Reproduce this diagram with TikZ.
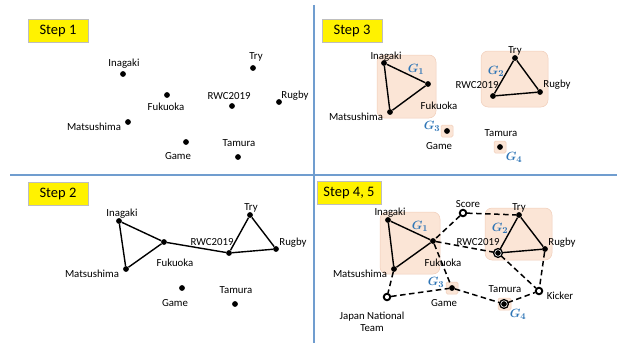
\documentclass[tikz,border=0pt]{standalone}
\usepackage{fontspec}
\setmainfont{Carlito}
\definecolor{lineblue}{RGB}{112,157,207}
\definecolor{gblue}{RGB}{46,117,182}
\definecolor{peach}{RGB}{251,229,214}
\definecolor{peachb}{RGB}{240,205,185}
\definecolor{stepb}{RGB}{190,190,190}
\begin{document}
\begin{tikzpicture}[x=1pt,y=-1pt,
  dot/.style={circle,fill=black,inner sep=0pt,minimum size=5.8pt},
  bigdot/.style={circle,inner sep=0pt,minimum size=6.5pt,fill=black,draw=black,double=white,double distance=0.6pt,line width=1.4pt},
  opendot/.style={circle,inner sep=0pt,minimum size=6.5pt,draw=black,line width=1.9pt,fill=white},
  lbl/.style={inner sep=0pt,font=\fontsize{10.8}{12.5}\selectfont},
  glab/.style={inner sep=0pt,text=gblue,font=\fontsize{13}{15}\selectfont\boldmath},
  stepbox/.style={draw=stepb,fill=yellow,line width=0.6pt,minimum height=23pt,inner sep=2pt,font=\fontsize{14.5}{16}\selectfont},
  grp/.style={fill=peach,draw=peachb,line width=0.5pt,rounded corners=7pt},
  sgrp/.style={fill=peach,draw=peachb,line width=0.5pt,rounded corners=1.5pt},
  edge/.style={draw=black,line width=1.4pt},
  dedge/.style={draw=black,line width=1.5pt,dash pattern=on 5.5pt off 3.5pt},
  sepline/.style={draw=lineblue,line width=2pt}]
\useasboundingbox (0,0) rectangle (617,345);
% separators
\draw[sepline] (314,5) -- (314,343);
\draw[sepline] (10,175) -- (617,175);

% ---------------- Step 1 ----------------
\node[stepbox,minimum width=60pt] (st1) at (58,30.5) {Step 1};
\node[dot] (a1) at (123,74) {};
\node[dot] (b1) at (253,68) {};
\node[dot] (c1) at (167,95) {};
\node[dot] (d1) at (232,106) {};
\node[dot] (e1) at (279,102) {};
\node[dot] (f1) at (128,122) {};
\node[dot] (g1) at (186,142) {};
\node[dot] (h1) at (238,157) {};
\node[lbl] (la1) at (124,64) {Inagaki};
\node[lbl] (lb1) at (256,57) {Try};
\node[lbl] (lc1) at (166,107) {Fukuoka};
\node[lbl] (ld1) at (229,96) {RWC2019};
\node[lbl] (le1) at (295,96) {Rugby};
\node[lbl] (lf1) at (94,127) {Matsushima};
\node[lbl] (lg1) at (178,156) {Game};
\node[lbl] (lh1) at (239,143) {Tamura};

% ---------------- Step 2 ----------------
\node[stepbox,minimum width=60pt] (st2) at (58,194) {Step 2};
\node[dot] (a2) at (119,221) {};
\node[dot] (c2) at (164,242) {};
\node[dot] (f2) at (126,269) {};
\node[dot] (d2) at (229,253) {};
\node[dot] (b2) at (250,215) {};
\node[dot] (e2) at (276,249) {};
\node[dot] (g2) at (182,288) {};
\node[dot] (h2) at (235,304) {};
\draw[edge] (a2) -- (c2) -- (f2) -- (a2);
\draw[edge] (c2) -- (d2);
\draw[edge] (d2) -- (b2) -- (e2) -- (d2);
\node[lbl] (la2) at (122,214) {Inagaki};
\node[lbl] (lc2) at (175,263) {Fukuoka};
\node[lbl] (lf2) at (92,274) {Matsushima};
\node[lbl] (ld2) at (212,242) {RWC2019};
\node[lbl] (lb2) at (251,208) {Try};
\node[lbl] (le2) at (293,243) {Rugby};
\node[lbl] (lg2) at (175,303) {Game};
\node[lbl] (lh2) at (236,290) {Tamura};

% ---------------- Step 3 ----------------
\node[stepbox,minimum width=60pt] (st3) at (352,30.5) {Step 3};
\path[grp] (377,55) rectangle (436,118);
\path[grp] (481,51) rectangle (548,107);
\path[sgrp] (441,125) rectangle (453,137);
\path[sgrp] (494,141) rectangle (506,153);
\node[dot] (a3) at (384,63) {};
\node[dot] (c3) at (428,84) {};
\node[dot] (f3) at (390,112) {};
\node[dot] (b3) at (515,58) {};
\node[dot] (e3) at (540,92) {};
\node[dot] (d3) at (493,96) {};
\node[dot] (g3) at (447,131) {};
\node[dot] (h3) at (500,147) {};
\draw[edge] (a3) -- (c3) -- (f3) -- (a3);
\draw[edge] (d3) -- (b3) -- (e3) -- (d3);
\node[lbl] (la3) at (386,57) {Inagaki};
\node[lbl] (lc3) at (439,106) {Fukuoka};
\node[lbl] (lf3) at (356,117) {Matsushima};
\node[lbl] (lb3) at (515,51) {Try};
\node[lbl] (le3) at (557,85) {Rugby};
\node[lbl] (ld3) at (477,85) {RWC2019};
\node[lbl] (lg3) at (439,146) {Game};
\node[lbl] (lh3) at (501,133) {Tamura};
\node[glab] (G13) at (416,69) {$G_1$};
\node[glab] (G23) at (496,71) {$G_2$};
\node[glab] (G33) at (432,126) {$G_3$};
\node[glab] (G43) at (514,157) {$G_4$};

% ---------------- Step 4, 5 ----------------
\node[stepbox,minimum width=64pt] (st4) at (349,193) {Step 4, 5};
\path[grp] (380,212) rectangle (440,274);
\path[grp] (485,208) rectangle (552,260);
\path[sgrp] (446,282) rectangle (458,294);
\path[sgrp] (498,298) rectangle (511,310);
\node[dot] (a4) at (388,220) {};
\node[dot] (c4) at (433,241) {};
\node[dot] (f4) at (394,269) {};
\node[dot] (b4) at (519,215) {};
\node[dot] (e4) at (545,249) {};
\node[bigdot] (d4) at (498,253) {};
\node[dot] (g4) at (452,288) {};
\node[bigdot] (h4) at (504,304) {};
\node[opendot] (s4) at (463,213) {};
\node[opendot] (j4) at (387,297) {};
\node[opendot] (k4) at (539,291) {};
\draw[dedge] (s4) -- (b4);
\draw[dedge] (s4) -- (c4);
\draw[dedge] (c4) -- (d4);
\draw[dedge] (c4) -- (g4);
\draw[dedge] (f4) -- (j4);
\draw[dedge] (j4) -- (g4);
\draw[dedge] (g4) -- (h4);
\draw[dedge] (h4) -- (k4);
\draw[dedge] (d4) -- (k4);
\draw[dedge] (e4) -- (k4);
\draw[edge] (a4) -- (c4) -- (f4) -- (a4);
\draw[edge] (d4) -- (b4) -- (e4) -- (d4);
\node[lbl] (la4) at (390,213) {Inagaki};
\node[lbl] (lc4) at (443,263) {Fukuoka};
\node[lbl] (lf4) at (360,274) {Matsushima};
\node[lbl] (lb4) at (519,208) {Try};
\node[lbl] (le4) at (562,243) {Rugby};
\node[lbl] (ld4) at (478,242) {RWC2019};
\node[lbl] (lg4) at (444,303) {Game};
\node[lbl] (lh4) at (505,289) {Tamura};
\node[lbl] (ls4) at (468,204) {Score};
\node[lbl] (lk4) at (560,296) {Kicker};
\node[lbl,align=center] (lj4) at (372,322) {Japan National\\Team};
\node[glab] (G14) at (420,226) {$G_1$};
\node[glab] (G24) at (500,228) {$G_2$};
\node[glab] (G34) at (436,282) {$G_3$};
\node[glab] (G44) at (518,314) {$G_4$};
\end{tikzpicture}
\end{document}
